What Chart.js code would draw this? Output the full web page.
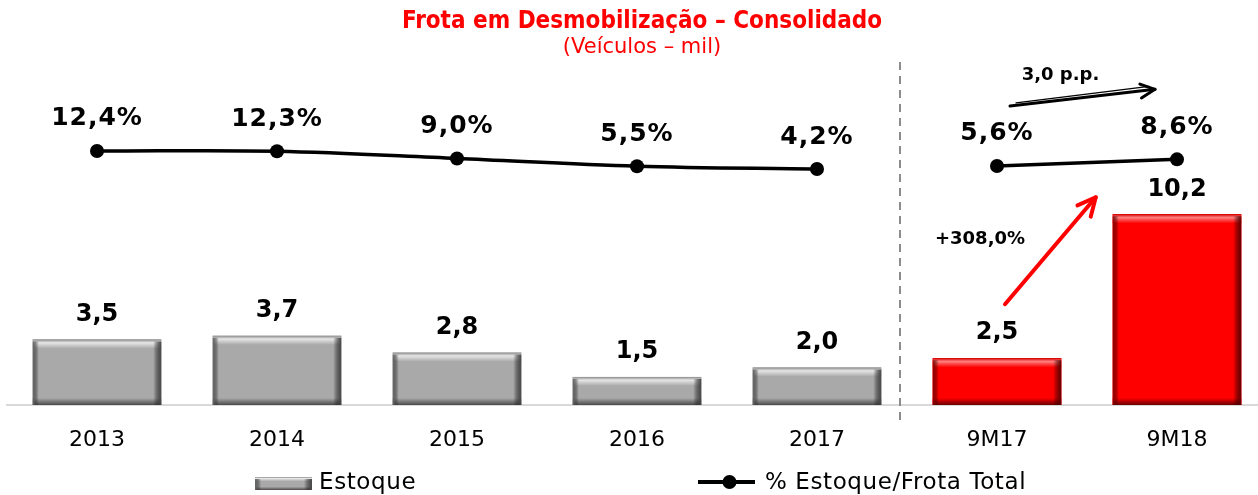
<!DOCTYPE html>
<html><head><meta charset="utf-8">
<script src="https://cdn.jsdelivr.net/npm/chart.js@4"></script>
<style>html,body{margin:0;padding:0;background:#fff;overflow:hidden;width:1258px;height:495px}canvas{display:block}</style>
</head><body><canvas id="c" width="1274" height="495"></canvas>
<script>
const categories = ['2013','2014','2015','2016','2017','9M17','9M18'];
const estoque = [3.5, 3.7, 2.8, 1.5, 2.0, 2.5, 10.2];
const pctAnual = [12.4, 12.3, 9.0, 5.5, 4.2, null, null];
const pctPeriodo = [null, null, null, null, null, 5.6, 8.6];
const titleText = 'Frota em Desmobilização – Consolidado';
const subtitleText = '(Veículos – mil)';
const legendLabels = ['Estoque', '% Estoque/Frota Total'];
const noteLine = '3,0 p.p.';
const noteBar = '+308,0%';

const FONT = '"DejaVu Sans", Verdana, sans-serif';
const FONTC = '"DejaVu Sans Condensed", "DejaVu Sans", sans-serif';
const firstPeriodIndex = 5;
function fmt(v){ return v.toFixed(1).replace('.', ','); }
const pal = {
  gray: {body:'#a9a9a9', light:'#e6e6e6', edge:'#8a8a8a', dark:'#4a4a4a', side:'#6a6a6a'},
  red:  {body:'#ff0000', light:'#ff8080', edge:'#d00000', dark:'#6a0000', side:'#a00000'}
};
function palFor(i){ return i >= firstPeriodIndex ? pal.red : pal.gray; }

function bevel(ctx, l, t, r, b, p){
  const w = r - l, h = b - t;
  ctx.save();
  ctx.fillStyle = p.body; ctx.fillRect(l, t, w, h);
  const tb = Math.min(9, h / 3);
  let g = ctx.createLinearGradient(0, t, 0, t + tb);
  g.addColorStop(0, p.edge); g.addColorStop(0.35, p.light); g.addColorStop(1, p.body);
  ctx.fillStyle = g; ctx.fillRect(l, t, w, tb);
  const bb = Math.min(7, h / 4);
  g = ctx.createLinearGradient(0, b - bb, 0, b);
  g.addColorStop(0, p.body); g.addColorStop(1, p.dark);
  ctx.fillStyle = g; ctx.fillRect(l, b - bb, w, bb);
  const lb = Math.min(6, w / 8);
  g = ctx.createLinearGradient(l, 0, l + lb, 0);
  g.addColorStop(0, p.side); g.addColorStop(1, 'rgba(0,0,0,0)');
  ctx.fillStyle = g; ctx.fillRect(l, t + 2, lb, h - 2);
  const rb = Math.min(8, w / 6);
  g = ctx.createLinearGradient(r - rb, 0, r, 0);
  g.addColorStop(0, 'rgba(0,0,0,0)'); g.addColorStop(1, p.dark);
  ctx.fillStyle = g; ctx.fillRect(r - rb, t + 2, rb, h - 2);
  ctx.restore();
}

function arrow(ctx, x1, y1, x2, y2, color, lw, head){
  ctx.save();
  ctx.strokeStyle = color; ctx.lineWidth = lw; ctx.lineCap = 'round'; ctx.lineJoin = 'round';
  ctx.beginPath(); ctx.moveTo(x1, y1); ctx.lineTo(x2, y2); ctx.stroke();
  if (head > 1) {
    const a = Math.atan2(y2 - y1, x2 - x1);
    ctx.beginPath();
    ctx.moveTo(x2 - head * Math.cos(a - 0.45), y2 - head * Math.sin(a - 0.45));
    ctx.lineTo(x2, y2);
    ctx.lineTo(x2 - head * Math.cos(a + 0.45), y2 - head * Math.sin(a + 0.45));
    ctx.stroke();
  }
  ctx.restore();
}

const deco = {
  id: 'deco',
  beforeDraw(chart){
    const ctx = chart.ctx;
    ctx.save(); ctx.fillStyle = '#fff'; ctx.fillRect(0, 0, chart.width, chart.height); ctx.restore();
  },
  afterDatasetDraw(chart, args){
    if (args.index !== 0) return;
    const ctx = chart.ctx;
    args.meta.data.forEach((el, i) => {
      const l = el.x - el.width / 2, r = el.x + el.width / 2;
      bevel(ctx, l, el.y, r, el.base, palFor(i));
    });
  },
  afterDraw(chart){
    const ctx = chart.ctx, ca = chart.chartArea, xs = chart.scales.x;
    const cx = (ca.left + ca.right) / 2 + 5;
    ctx.save();
    // separator
    const sx = (xs.getPixelForValue(firstPeriodIndex - 1) + xs.getPixelForValue(firstPeriodIndex)) / 2 - 7;
    ctx.strokeStyle = '#8c8c8c'; ctx.lineWidth = 2; ctx.setLineDash([8, 6]);
    ctx.beginPath(); ctx.moveTo(sx, ca.top + 2); ctx.lineTo(sx, ca.bottom + 17); ctx.stroke();
    ctx.setLineDash([]);
    // titles
    ctx.textAlign = 'center'; ctx.textBaseline = 'middle';
    ctx.fillStyle = '#ff0000';
    ctx.font = 'bold 24px ' + FONTC;
    ctx.fillText(titleText, cx, 22);
    ctx.font = '21px ' + FONT;
    ctx.fillText(subtitleText, cx, 48);
    // bar labels
    ctx.fillStyle = '#000';
    ctx.font = 'bold 24px ' + FONT;
    chart.getDatasetMeta(0).data.forEach((el, i) => {
      ctx.fillText(fmt(estoque[i]), el.x, el.y - 25);
    });
    // line labels
    ctx.font = 'bold 25px ' + FONT;
    ctx.letterSpacing = '1px';
    [[1, pctAnual], [2, pctPeriodo]].forEach(([di, arr]) => {
      chart.getDatasetMeta(di).data.forEach((el, i) => {
        if (arr[i] == null) return;
        ctx.fillText(fmt(arr[i]) + '%', el.x, el.y - 32);
      });
    });
    ctx.letterSpacing = '0px';
    // annotations
    const lm = chart.getDatasetMeta(2).data;
    const p1 = lm[firstPeriodIndex], p2 = lm[firstPeriodIndex + 1];
    const ax1 = p1.x + 13, ay1 = p1.y - 60, ax2 = p2.x - 22, ay2 = p2.y - 70;
    arrow(ctx, ax1, ay1, ax2, ay2, '#000', 3, 16);
    arrow(ctx, ax1 + 6, ay1 - 3, ax2 - 6, ay2 - 3, '#000', 1.2, 0);
    ctx.font = 'bold 18px ' + FONT;
    ctx.fillText(noteLine, (ax1 + ax2) / 2 - 22, p2.y - 84);
    const bm = chart.getDatasetMeta(0).data;
    const b1 = bm[firstPeriodIndex], b2 = bm[firstPeriodIndex + 1];
    arrow(ctx, b1.x + 8, b1.y - 54, b2.x - b2.width / 2 - 17, b2.y - 17, '#ff0000', 4, 20);
    ctx.fillStyle = '#000';
    ctx.fillText(noteBar, b1.x - 17, b2.y + 25);
    // legend
    const ly = 483;
    ctx.font = '23px ' + FONT;
    ctx.letterSpacing = '0.6px';
    const sw = 57;
    let x = cx - 387;
    bevel(ctx, x, ly - 6, x + sw, ly + 7, pal.gray);
    ctx.fillStyle = '#000'; ctx.textAlign = 'left';
    ctx.fillText(legendLabels[0], x + sw + 7, ly);
    x = cx + 56;
    ctx.strokeStyle = '#000'; ctx.lineWidth = 4;
    ctx.beginPath(); ctx.moveTo(x, ly - 1); ctx.lineTo(x + sw, ly - 1); ctx.stroke();
    ctx.beginPath(); ctx.arc(x + sw / 2 + 3, ly - 1, 7, 0, Math.PI * 2); ctx.fill();
    ctx.fillText(legendLabels[1], x + sw + 10, ly);
    ctx.restore();
  }
};

new Chart(document.getElementById('c'), {
  type: 'bar',
  data: {
    labels: categories,
    datasets: [
      { type: 'bar', data: estoque, yAxisID: 'y', order: 2,
        backgroundColor: ctx => palFor(ctx.dataIndex).body, borderWidth: 0,
        barPercentage: 0.714, categoryPercentage: 1 },
      { type: 'line', data: pctAnual, yAxisID: 'y2', order: 1,
        borderColor: '#000', borderWidth: 3.5, tension: 0.35, spanGaps: false,
        pointRadius: 7, pointBackgroundColor: '#000', pointBorderWidth: 0 },
      { type: 'line', data: pctPeriodo, yAxisID: 'y2', order: 1,
        borderColor: '#000', borderWidth: 3.5, tension: 0, spanGaps: false,
        pointRadius: 7, pointBackgroundColor: '#000', pointBorderWidth: 0 }
    ]
  },
  options: {
    responsive: false, animation: false,
    layout: { padding: { top: 60, left: 7, right: 3, bottom: 0 } },
    plugins: { legend: { display: false }, tooltip: { enabled: false } },
    scales: {
      x: {
        grid: { display: false, drawTicks: false },
        border: { display: true, color: '#d9d9d9', width: 2 },
        ticks: { font: { family: FONT, size: 22 }, color: '#000', padding: 22 },
        afterFit(scale){ scale.height = 90; }
      },
      y: { display: false, min: 0, max: 18.45 },
      y2: { display: false, min: -103.05, max: 53.76 }
    }
  },
  plugins: [deco]
});
</script>
</body></html>
